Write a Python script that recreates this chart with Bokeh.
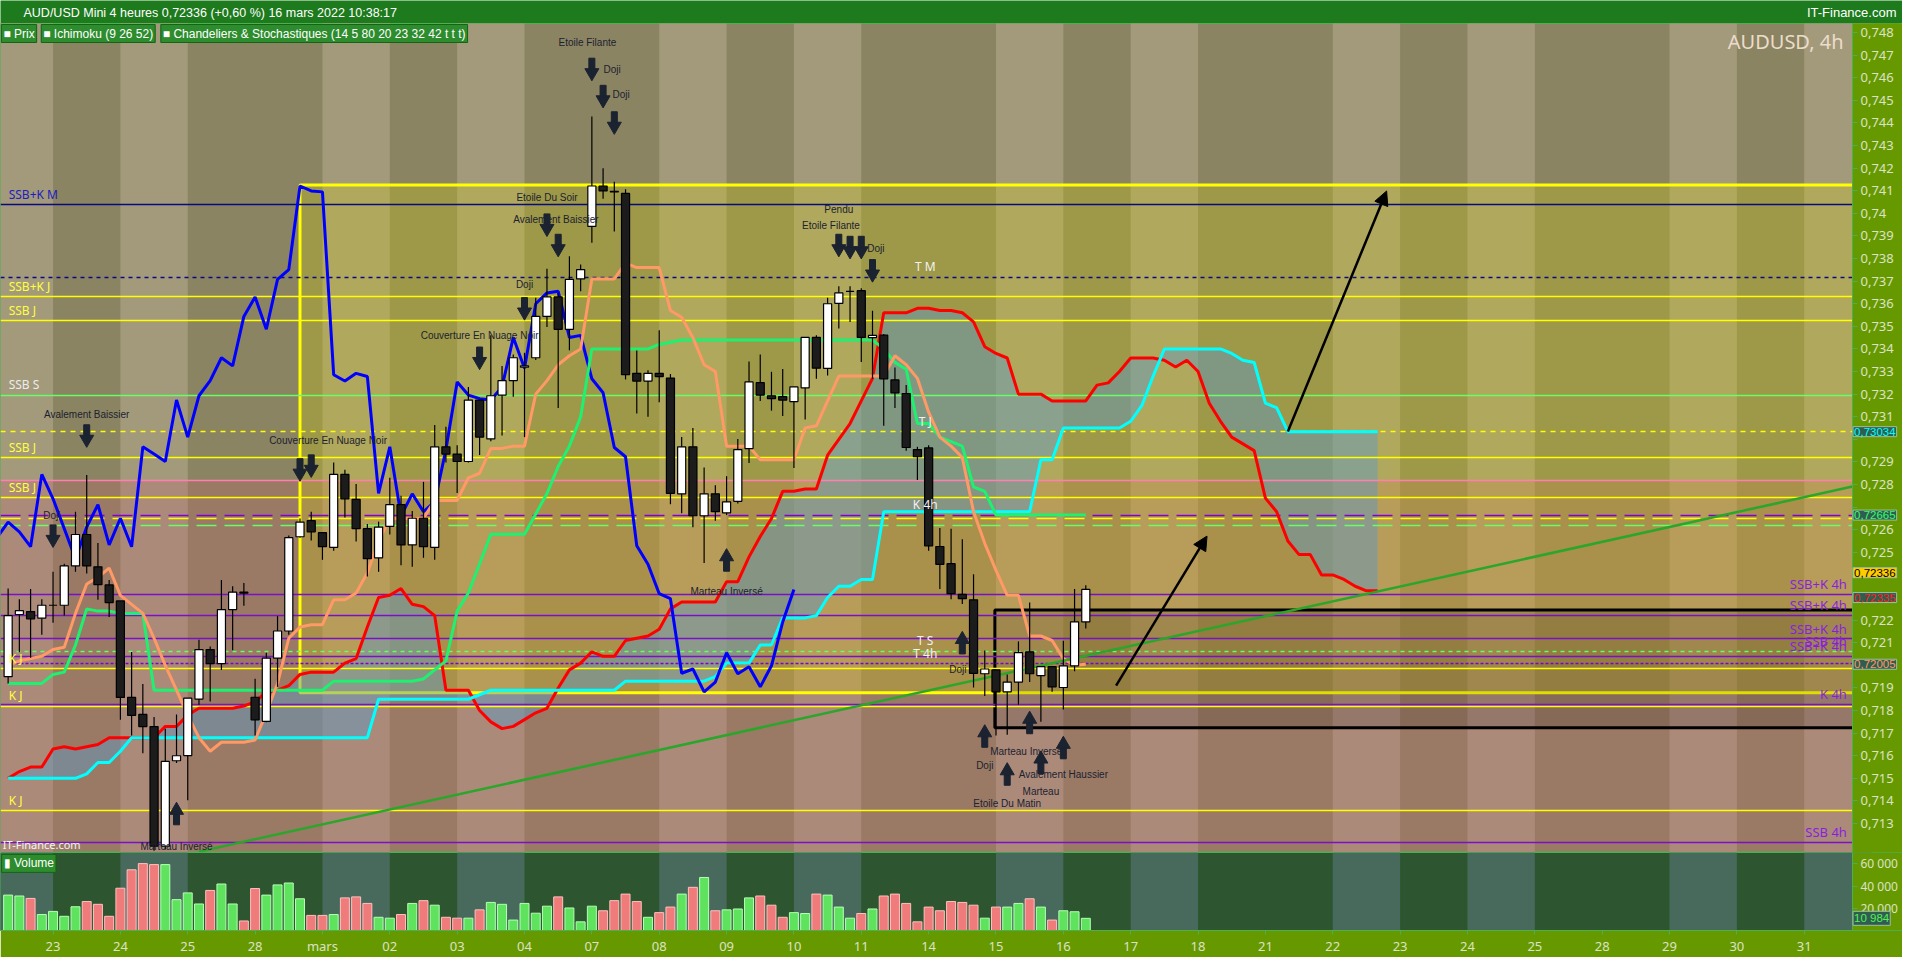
import numpy as np
from bokeh.plotting import figure
from bokeh.layouts import column
from bokeh.models import Range1d, FixedTicker, Label, Arrow, NormalHead
from bokeh.core.properties import value
from bokeh.embed import file_html
from bokeh.resources import INLINE

# ---- values: 4h bars, bar 0 = 22 Feb 08:00 ----
opens = [.7195, .72225, .72238, .72209, .72266, .72266, .72440, .72579, .72436, .72356,
         .72285, .71858, .71783, .71729, .71200, .71578, .71601, .71851, .72070, .72008,
         .72247, .72324, .71859, .71752, .72032, .72152, .72569, .72640, .72587, .72522,
         .72845, .72734, .72605, .72476, .72615, .72711, .72533, .72651, .72522, .72967,
         .72935, .72902, .73174, .73002, .73196, .73260, .73319, .73361, .73544, .73630,
         .73487, .73710, .73942, .74121, .74097, .74088, .73292, .73258, .73292, .73271,
         .72759, .72967, .72662, .72759, .72675, .72726, .72959, .73251, .73193, .73189,
         .73167, .73228, .73451, .73314, .73602, .73655, .73658, .73450, .73461, .73263,
         .73203, .72955, .72962, .72526, .72450, .72314, .72290, .71963, .71980, .71883,
         .71926, .72060, .71955, .71994, .71902, .71998, .72192]
highs = [.7234, .72292, .72338, .72292, .72414, .72450, .72680, .72842, .72541, .72378,
         .72285, .72059, .71917, .71772, .71719, .71783, .71855, .72113, .72084, .72378,
         .72350, .72364, .71941, .72056, .72218, .72575, .72650, .72680, .72587, .72898,
         .72866, .72802, .72625, .72636, .72830, .72751, .72683, .72812, .73064, .73056,
         .72974, .73232, .73174, .73461, .73325, .73375, .73383, .73626, .73755, .73648,
         .73810, .73774, .74429, .74200, .74140, .74107, .73393, .73306, .73483, .73289,
         .73010, .73050, .72876, .72797, .72837, .73002, .73344, .73375, .73299, .73311,
         .73232, .73451, .73461, .73626, .73677, .73677, .73669, .73569, .73466, .73318,
         .73240, .72967, .72974, .72608, .72605, .72558, .72403, .72066, .71980, .71960,
         .72106, .72278, .71994, .71994, .72109, .72338, .72354]
lows = [.7192, .72058, .72034, .72135, .72189, .72221, .72414, .72407, .72290, .72214,
        .71759, .71690, .71611, .71180, .71185, .71568, .71403, .71826, .71840, .71980,
        .72067, .72264, .71690, .71748, .71905, .72135, .72565, .72553, .72467, .72507,
        .72654, .72548, .72393, .72414, .72579, .72443, .72436, .72476, .72467, .72898,
        .72763, .72898, .72931, .72992, .73017, .73189, .73010, .73351, .73497, .73139,
        .73394, .73655, .73870, .74065, .73920, .73265, .73114, .73100, .73164, .72713,
        .72673, .72611, .72453, .72640, .72665, .72716, .72895, .73170, .73127, .73103,
        .72873, .73088, .73268, .73282, .73490, .73519, .73342, .73268, .73060, .73139,
        .72950, .72820, .72507, .72338, .72292, .72271, .71902, .71865, .71690, .71693,
        .71826, .71926, .71750, .71883, .71805, .71974, .72163]
closes = [.7222, .72242, .72206, .72266, .72266, .72440, .72579, .72440, .72357, .72278,
          .71858, .71779, .71729, .71200, .71575, .71600, .71855, .72070, .72008, .72247,
          .72324, .72320, .71759, .72032, .72152, .72565, .72634, .72591, .72525, .72845,
          .72737, .72605, .72472, .72612, .72711, .72533, .72651, .72525, .72967, .72935,
          .72902, .73174, .73010, .73193, .73260, .73361, .73325, .73544, .73630, .73487,
          .73708, .73751, .74121, .74099, .74095, .73286, .73258, .73292, .73278, .72761,
          .72967, .72662, .72759, .72680, .72723, .72955, .73254, .73196, .73180, .73174,
          .73232, .73451, .73315, .73600, .73648, .73655, .73451, .73460, .73268, .73206,
          .72964, .72923, .72529, .72447, .72317, .72295, .71965, .71984, .71883, .71926,
          .72056, .71963, .71994, .71905, .71998, .72192, .72336]
volumes = [31900, 31100, 28900, 14400, 17200, 12800, 21400, 26100, 23600, 12800,
           38100, 54700, 60300, 59400, 59400, 27800, 33900, 23900, 36100, 41900,
           23900, 8600, 37800, 31900, 41100, 42800, 28600, 13600, 13600, 14400,
           29400, 30300, 24400, 11900, 11100, 14400, 24400, 26900, 22800, 11900,
           11100, 11100, 18600, 25300, 23600, 9400, 24400, 15600, 21900, 30300,
           20300, 7800, 21900, 17800, 26900, 32800, 26100, 11900, 16100, 21100,
           32800, 38900, 47800, 17800, 18600, 19400, 29400, 31100, 22800, 11900,
           16100, 15300, 32800, 31900, 21100, 11100, 15300, 19400, 31100, 32800,
           24400, 7800, 21100, 17800, 26100, 25300, 22800, 11100, 21100, 21100,
           24400, 28600, 21100, 9400, 17800, 16900, 10984]

# Ichimoku (9 26 52)
tenkan = [.7200, .7202, .7203, .7204, .7207, .7208, .7223, .7236, .7239, .7243,
          .7231, .7227, .7223, .7212, .7200, .7189, .7178, .7168, .7162, .7166,
          .7166, .7166, .7167, .7179, .7192, .7212, .7217, .7218, .7218, .7229,
          .7229, .7232, .7241, .7255, .7265, .7265, .7265, .7265, .7273, .7273,
          .7273, .7283, .7285, .7296, .7296, .7297, .7297, .7320, .7326, .7333,
          .7337, .7340, .7371, .7371, .7371, .7378, .7376, .7376, .7376, .7357,
          .7354, .7345, .7333, .7330, .7297, .7297, .7297, .7291, .7291, .7291,
          .7291, .7305, .7306, .7317, .7328, .7328, .7328, .7328, .7328, .7337,
          .7333, .7327, .7312, .7301, .7297, .7292, .7268, .7254, .7242, .7231,
          .7231, .7213, .7213, .7211, .7203, .7200, .72005]
kijun = [.7192, .7192, .7192, .7192, .7196, .7197, .7209, .7225, .7224, .7224,
         .7223, .7223, .7223, .7189, .7189, .7189, .7189, .7189, .7189, .7189,
         .7189, .7189, .7189, .7189, .7189, .7189, .7189, .7189, .7189, .7193,
         .7193, .7193, .7193, .7193, .7193, .7193, .7193, .7194, .7198, .7202,
         .7224, .7232, .7245, .7258, .7258, .7258, .7258, .7267, .7276, .7288,
         .7297, .7310, .7340, .7340, .7340, .7340, .7340, .7340, .7342, .7343,
         .7344, .7344, .7344, .7344, .7344, .7344, .7344, .7344, .7344, .7344,
         .7344, .7344, .7344, .7344, .7344, .7344, .7344, .7344, .7340, .7334,
         .7331, .7307, .7307, .7301, .7299, .7297, .7279, .7277, .72665, .72665,
         .72665, .72665, .72665, .72665, .72665, .72665, .72665]
ssa = ([.7150] * 7 + [.7152, .7157, .7157, .7162, .7168] + [.7168] * 21 + [.7185] * 9
       + [.7187] + [.7189] * 12 + [.7193] * 8 + [.7195] + [.7201] * 3 + [.7209] * 2
       + [.7221] * 3 + [.7222, .7230, .7235, .7235, .7238, .7238] + [.7268] * 14
       + [.7291] * 2 + [.7305] * 6 + [.7308, .7315, .7328] + [.7340] * 6
       + [.7338, .7335, .7334, .7316, .7314] + [.73034] * 9)
ssb = [.7150, .7153, .7155, .7155, .7163, .7164, .7163, .7164, .7165, .7168,
       .7168, .7168, .7168, .7168, .7173, .7173, .7178, .7181, .7181, .7181,
       .7181, .7182, .7184, .7188, .7189, .7191, .7196, .7197, .7197, .7197,
       .7201, .7203, .7217, .7230, .7231, .7234, .7227, .7226, .7222, .7189,
       .7189, .7189, .7180, .7175, .7172, .7173, .7176, .7179, .7181, .7190,
       .7198, .7201, .7206, .7204, .7204, .7211, .7212, .7213, .7216, .7225,
       .7228, .7228, .7228, .7228, .7237, .7237, .7248, .7257, .7265, .7277,
       .7277, .7278, .7278, .7293, .7300, .7307, .7317, .7327, .7356, .7356,
       .7356, .7358, .7358, .7357, .7357, .7356, .7352, .7341, .7338, .7336,
       .7320, .7320, .7320, .7317, .7317, .7317, .7317, .7324, .7325, .7330,
       .7336, .7336, .7336, .7335, .7332, .7335, .7330, .7316, .7308, .7301,
       .7298, .7295, .7274, .7268, .7255, .7249, .7249, .7240, .7240, .7238,
       .7235, .7233, .7233]

# day axis (6 bars a day, first boundary at bar -2)
day_labels = ["22", "23", "24", "25", "28", "mars", "02", "03", "04", "07", "08", "09", "10", "11",
              "14", "15", "16", "17", "18", "21", "22", "23", "24", "25", "28", "29", "30", "31"]
light_days = [0, 2, 5, 7, 10, 12, 15, 17, 20, 22, 25, 27]   # Tuesdays and Thursdays
price_ticks = [0.713, 0.714, 0.715, 0.716, 0.717, 0.718, 0.719, 0.72, 0.721, 0.722, 0.723, 0.724,
               0.725, 0.726, 0.727, 0.728, 0.729, 0.73, 0.731, 0.732, 0.733, 0.734, 0.735, 0.736,
               0.737, 0.738, 0.739, 0.74, 0.741, 0.742, 0.743, 0.744, 0.745, 0.746, 0.747, 0.748]
price_tick_labels = ["0,713", "0,714", "0,715", "0,716", "0,717", "0,718", "0,719", "", "0,721",
                     "0,722", "", "", "0,725", "0,726", "", "0,728", "0,729", "", "0,731", "0,732",
                     "0,733", "0,734", "0,735", "0,736", "0,737", "0,738", "0,739", "0,74", "0,741",
                     "0,742", "0,743", "0,744", "0,745", "0,746", "0,747", "0,748"]
vol_ticks = [20000, 40000, 60000]
vol_tick_labels = ["20 000", "40 000", "60 000"]

# drawn levels
yellow_levels = [0.73632, 0.73525, 0.72918, 0.72741, 0.71984, 0.71820, 0.71357]
purple_levels = [0.72315, 0.72221, 0.72118, 0.72040, 0.71827, 0.71218]
navy_level, navy_dashed_level = 0.74037, 0.73718
green_level = 0.73196
pink_level = 0.7282
tenkan_level = 0.72008
ssa_level, kijun_dash_levels = 0.73034, [0.72665, 0.72650, 0.72621]
ssb4h_level = 0.72063
yellow_box = [26.0, 0.71879, 0.74125]     # left bar, bottom, top
black_box = [87.9, 0.71724, 0.72245]
trend_x, trend_y = [17.0, 164.3], [0.71176, 0.72791]
proj_arrows = [(98.7, 0.7191, 106.8, 0.72572), (114.0, 0.73035, 122.8, 0.74099)]

left_tags = ["SSB+K J", "SSB J", "SSB J", "SSB J", "K J", "K J", "K J"]
left_tag_y = [0.73632, 0.73525, 0.72918, 0.72741, 0.71984, 0.71820, 0.71357]
right_tags = ["SSB+K 4h", "SSB+K 4h", "SSB+K 4h", "SSB 4h", "SSB+K 4h", "K 4h", "SSB 4h"]
right_tag_y = [0.72315, 0.72221, 0.72118, 0.72063, 0.72040, 0.71827, 0.71218]
mid_tags = ["T M", "T J", "K 4h", "T S", "T 4h"]
mid_tag_y = [0.73718, 0.73034, 0.72665, 0.72063, 0.72008]

down_x = [52, 53, 54, 48, 49, 46, 42, 26, 27, 7, 4, 74, 75, 76, 77]
down_y = [.74640, .74520, .74403, .73951, .73861, .73581, .73362, .72868, .72885, .73018,
          .72575, .73861, .73852, .73852, .73749]
up_x = [15, 64, 85, 87, 89, 91, 92, 94]
up_y = [.71341, .72463, .72097, .71684, .71516, .71744, .71568, .71633]
sig_text = ["Etoile Filante", "Doji", "Doji", "Etoile Du Soir", "Avalement Baissier", "Doji",
            "Couverture En Nuage Noir", "Couverture En Nuage Noir", "Avalement Baissier", "Doji",
            "Etoile Filante", "Pendu", "Doji", "Marteau Inversé", "Marteau Inversé", "Doji", "Doji",
            "Etoile Du Matin", "Marteau Inversé", "Avalement Haussier", "Marteau"]
sig_x = [51.6, 53.8, 54.6, 48.0, 48.8, 46.0, 42.0, 28.5, 7.0, 3.9, 73.3, 74.0, 77.3,
         15.0, 64.0, 84.6, 87.0, 89.0, 90.7, 94.0, 92.0]
sig_y = [.74757, .74636, .74524, .74068, .73973, .73685, .73461, .72997, .73109, .72665,
         .73948, .74015, .73844, .71198, .72328, .71981, .71559, .71387, .71620, .71516, .71443]

legend_items = ["■ Prix", "■ Ichimoku (9 26 52)",
                "■ Chandeliers & Stochastiques (14 5 80 20 23 32 42 t t t)"]
legend_x = [-0.6, 2.95, 13.6]
badge_y = [0.73034, 0.72665, 0.7241, 0.7230, 0.72005]
badge_text = ["0,73034", "0,72665", "0,72336", "0,72335", "0,72005"]

# ---- geometry / style ----
W = 1902
AXIS_W = 50
FRAME_W = W - AXIS_W
PRICE_H, VOL_H, HDR_H = 829, 105, 23
X_LO, X_HI = -0.68, 164.3                      # chart area (bar index)
X_END = X_HI + AXIS_W * (X_HI - X_LO) / FRAME_W  # includes the price-scale column
PRICE_LO, PRICE_HI = 0.71172, 0.7484
VOL_HI = 70300
DY = (PRICE_HI - PRICE_LO) / PRICE_H
FONT = "Noto Sans"
SMALL_FONT = "Liberation Sans"
AXIS_BG = "#669900"
ARROW_C = "#1b2230"
BADGE_FILL = "#2f5e50"
badge_colors = ["#00ffff", "#33ff66", "black", "#ff2020", "#ff9966"]
badge_fills = [BADGE_FILL, BADGE_FILL, "#ffcc00", BADGE_FILL, BADGE_FILL]

idx = np.arange(len(closes))
o, h, l, c = map(np.array, (opens, highs, lows, closes))
up = c >= o
day_starts = [-2 + 6 * k for k in range(len(day_labels))]
light_left = np.array([day_starts[k] for k in light_days])

x_range = Range1d(X_LO, X_END)


def style_axis(a, size="13px"):
    a.major_label_text_color = "#dde2c6"
    a.major_label_text_font = FONT
    a.major_label_text_font_size = size
    a.axis_line_color = "#4caf50"
    a.major_tick_line_color = "#4caf50"
    a.major_tick_in = 0
    a.major_tick_out = 5
    a.minor_tick_line_color = None
    a.major_label_standoff = 3


def badge(fig, y, text, color, fill):
    fig.add_layout(Label(x=X_HI + 0.05, y=y, text=text, anchor="center_left", text_color=color,
                         text_font=SMALL_FONT, text_font_size="11.5px", background_fill_color=fill,
                         border_line_color="#9fbf9f", padding=1))


# header bar
hdr = figure(width=W, height=HDR_H, x_range=Range1d(0, W), y_range=Range1d(0, HDR_H),
             output_backend="svg", toolbar_location=None, x_axis_location=None,
             y_axis_location=None, min_border=0)
hdr.background_fill_color = "#1d7a1d"
hdr.border_fill_color = "#1d7a1d"
hdr.outline_line_color = None
hdr.grid.visible = False
hdr.text(x=[23], y=[11], text=["AUD/USD Mini 4 heures 0,72336 (+0,60 %) 16 mars 2022 10:38:17"],
         text_baseline="middle", text_color="white", text_font_size="12.5px",
         text_font=value(SMALL_FONT))
hdr.text(x=[W - 6], y=[11], text=["IT-Finance.com"], text_align="right", text_baseline="middle",
         text_color="white", text_font_size="13px", text_font=value(SMALL_FONT))

# price panel (the price scale sits inside the frame, in its own column)
p = figure(width=W, height=PRICE_H, x_range=x_range, y_range=Range1d(PRICE_LO, PRICE_HI),
           output_backend="svg", toolbar_location=None, x_axis_location=None,
           y_axis_location="right", min_border=0)
p.background_fill_color = "#8b8462"
p.border_fill_color = AXIS_BG
p.outline_line_color = "#4caf50"
p.grid.visible = False

p.quad(left=light_left, right=light_left + 6, bottom=PRICE_LO - 0.01, top=PRICE_HI + 0.01,
       fill_color="#a39a7c", line_color=None)
p.quad(left=[X_LO - 1], right=[X_HI + 1], bottom=[PRICE_LO - 0.01], top=[pink_level],
       fill_color="#c85a6e", fill_alpha=0.25, line_color=None)
p.quad(left=[yellow_box[0]], right=[X_END + 5], bottom=[yellow_box[1]], top=[yellow_box[2]],
       fill_color="#d7d400", fill_alpha=0.25, line_color="#ffff00", line_width=3)
p.quad(left=[black_box[0]], right=[X_END + 5], bottom=[black_box[1]], top=[black_box[2]],
       fill_color="black", fill_alpha=0.13, line_color="black", line_width=3)

# cloud
cx = np.arange(len(ssa))
p.varea(x=cx, y1=ssa, y2=ssb, fill_color="#5a98c8", fill_alpha=0.45)

# levels
p.hspan(y=yellow_levels, line_color="#ffff00", line_width=1.5)
p.hspan(y=purple_levels, line_color="#7a10c8", line_width=1.5)
p.hspan(y=[navy_level], line_color="#0a0a80", line_width=1.5)
p.hspan(y=[navy_dashed_level], line_color="#0a0a80", line_width=1.5, line_dash="4 4")
p.hspan(y=[green_level], line_color="#66ff66", line_width=1.5)
p.hspan(y=[pink_level], line_color="#ff80b0", line_width=1.5)
p.hspan(y=[ssa_level], line_color="#ffff00", line_width=1.5, line_dash="5 5")
p.hspan(y=kijun_dash_levels[:1], line_color="#8000d0", line_width=1.5, line_dash="20 8")
p.hspan(y=kijun_dash_levels[1:2], line_color="#ffff00", line_width=1.5, line_dash="20 8")
p.hspan(y=kijun_dash_levels[2:], line_color="#66ff66", line_width=1.5, line_dash="20 8")
p.hspan(y=[ssb4h_level], line_color="#66ff66", line_width=1.5, line_dash="4 4")
p.hspan(y=[tenkan_level], line_color="#8000d0", line_width=1.5, line_dash="3 2")

# ichimoku lines
p.line(cx, ssb, line_color="#ff0000", line_width=3)
p.line(cx, ssa, line_color="#00ffff", line_width=3)
p.line(idx - 26, closes, line_color="#0000ff", line_width=3)
p.line(idx, kijun, line_color="#1ef070", line_width=3)
p.line(idx, tenkan, line_color="#ff9966", line_width=3)

p.line(trend_x, trend_y, line_color="#2aa62a", line_width=2.5)
for xs, ys, xe, ye in proj_arrows:
    p.add_layout(Arrow(end=NormalHead(size=14, fill_color="black", line_color="black"),
                       x_start=xs, y_start=ys, x_end=xe, y_end=ye,
                       line_color="black", line_width=2.5))

# candles
p.segment(x0=idx, y0=l, x1=idx, y1=h, line_color="black", line_width=1.2)
p.vbar(x=idx[up], width=0.72, top=c[up], bottom=o[up], fill_color="white",
       line_color="black", line_width=1.2)
p.vbar(x=idx[~up], width=0.72, top=o[~up], bottom=c[~up], fill_color="#1c1c1c",
       line_color="black", line_width=1.2)

# signal arrows
dx_, dy_ = np.array(down_x), np.array(down_y)
p.rect(x=dx_, y=dy_ + 5 * DY, width=6, height=11, width_units="screen", height_units="screen",
       fill_color=ARROW_C, line_color=ARROW_C)
p.scatter(x=dx_, y=dy_ - 4 * DY, marker="inverted_triangle", size=14, fill_color=ARROW_C,
          line_color=ARROW_C)
ux_, uy_ = np.array(up_x), np.array(up_y)
p.rect(x=ux_, y=uy_ - 5 * DY, width=6, height=11, width_units="screen", height_units="screen",
       fill_color=ARROW_C, line_color=ARROW_C)
p.scatter(x=ux_, y=uy_ + 4 * DY, marker="triangle", size=14, fill_color=ARROW_C,
          line_color=ARROW_C)
p.text(x=sig_x, y=sig_y, text=sig_text, text_align="center", text_baseline="middle",
       text_color=ARROW_C, text_font_size="10px", text_font=value(SMALL_FONT))

# level tags
p.text(x=[0.05], y=[navy_level + 2 * DY], text=["SSB+K M"], text_baseline="bottom",
       text_color="#2020c0", text_font_size="12px", text_font=value(FONT))
p.text(x=[0.05], y=[green_level + 2 * DY], text=["SSB S"], text_baseline="bottom",
       text_color="#ececec", text_font_size="12px", text_font=value(FONT))
p.text(x=[0.05] * len(left_tags), y=np.array(left_tag_y) + 2 * DY, text=left_tags,
       text_baseline="bottom", text_color="#ffff40", text_font_size="12px", text_font=value(FONT))
p.text(x=[163.8] * len(right_tags), y=np.array(right_tag_y) + 1 * DY, text=right_tags,
       text_align="right", text_baseline="bottom", text_color="#8a1ee0", text_font_size="13px",
       text_font=value(FONT))
p.text(x=[81.7] * len(mid_tags), y=np.array(mid_tag_y) + 2 * DY, text=mid_tags,
       text_align="center", text_baseline="bottom", text_color="#f2f2f2", text_font_size="12px",
       text_font=value(FONT))

# price-scale column
p.quad(left=[X_HI], right=[X_END + 1], bottom=[PRICE_LO - 0.01], top=[PRICE_HI + 0.01],
       fill_color=AXIS_BG, line_color=None)
ax = p.yaxis[0]
ax.fixed_location = X_HI
ax.ticker = FixedTicker(ticks=price_ticks)
ax.major_label_overrides = dict(zip(price_ticks, price_tick_labels))
style_axis(ax)

# overlays: legend bar, watermarks, price badges
leg_y = PRICE_HI - 1 * DY
for lx, txt in zip(legend_x, legend_items):
    p.add_layout(Label(x=lx, y=leg_y, text=txt, anchor="top_left", text_color="white",
                       text_font=SMALL_FONT, text_font_size="12px", background_fill_color="#2d8c2d",
                       border_line_color="#146414", padding=2))
p.add_layout(Label(x=X_HI - 0.8, y=PRICE_HI - 4 * DY, text="AUDUSD, 4h", anchor="top_right",
                   text_color="#ecdccb", text_font=FONT, text_font_size="20px"))
p.add_layout(Label(x=X_LO + 0.2, y=PRICE_LO + 1 * DY, text="IT-Finance.com", anchor="bottom_left",
                   text_color="#f4f4f4", text_font=FONT, text_font_size="11px"))
for by, bt, bc, bf in zip(badge_y, badge_text, badge_colors, badge_fills):
    badge(p, by, bt, bc, bf)

# volume panel
v = figure(width=W, height=VOL_H, x_range=x_range, y_range=Range1d(0, VOL_HI),
           output_backend="svg", toolbar_location=None, y_axis_location="right",
           min_border_left=0, min_border_right=0, min_border_top=0, min_border_bottom=22)
v.background_fill_color = "#2d5530"
v.border_fill_color = AXIS_BG
v.outline_line_color = "#4caf50"
v.grid.visible = False
v.quad(left=light_left, right=light_left + 6, bottom=0, top=VOL_HI,
       fill_color="#486a5c", line_color=None)
vol = np.array(volumes)
v.vbar(x=idx[up], width=0.8, top=vol[up], bottom=0, fill_color="#5fe35f", line_color="#b4ffb4")
v.vbar(x=idx[~up], width=0.8, top=vol[~up], bottom=0, fill_color="#ef7b7b", line_color="#ffc0c0")
v.quad(left=[X_HI], right=[X_END + 1], bottom=[0], top=[VOL_HI], fill_color=AXIS_BG,
       line_color=None)
v.add_layout(Label(x=X_LO + 0.1, y=VOL_HI - 2 * (VOL_HI / 83), text="▮ Volume", anchor="top_left",
                   text_color="white", text_font=SMALL_FONT, text_font_size="12px",
                   background_fill_color="#2d8c2d", border_line_color="#146414", padding=2))
badge(v, volumes[-1], "10 984", "#55ee55", BADGE_FILL)

vy = v.yaxis[0]
vy.fixed_location = X_HI
vy.ticker = FixedTicker(ticks=vol_ticks)
vy.major_label_overrides = dict(zip(vol_ticks, vol_tick_labels))
style_axis(vy, "12px")
vx = v.xaxis[0]
vx.ticker = FixedTicker(ticks=day_starts)
vx.major_label_overrides = dict(zip(day_starts, day_labels))
style_axis(vx)
vx.major_tick_out = 4
vx.major_label_standoff = 2

layout = column(hdr, p, v, spacing=0)
open("out.html", "w").write(file_html(layout, INLINE, title="AUD/USD 4h"))
